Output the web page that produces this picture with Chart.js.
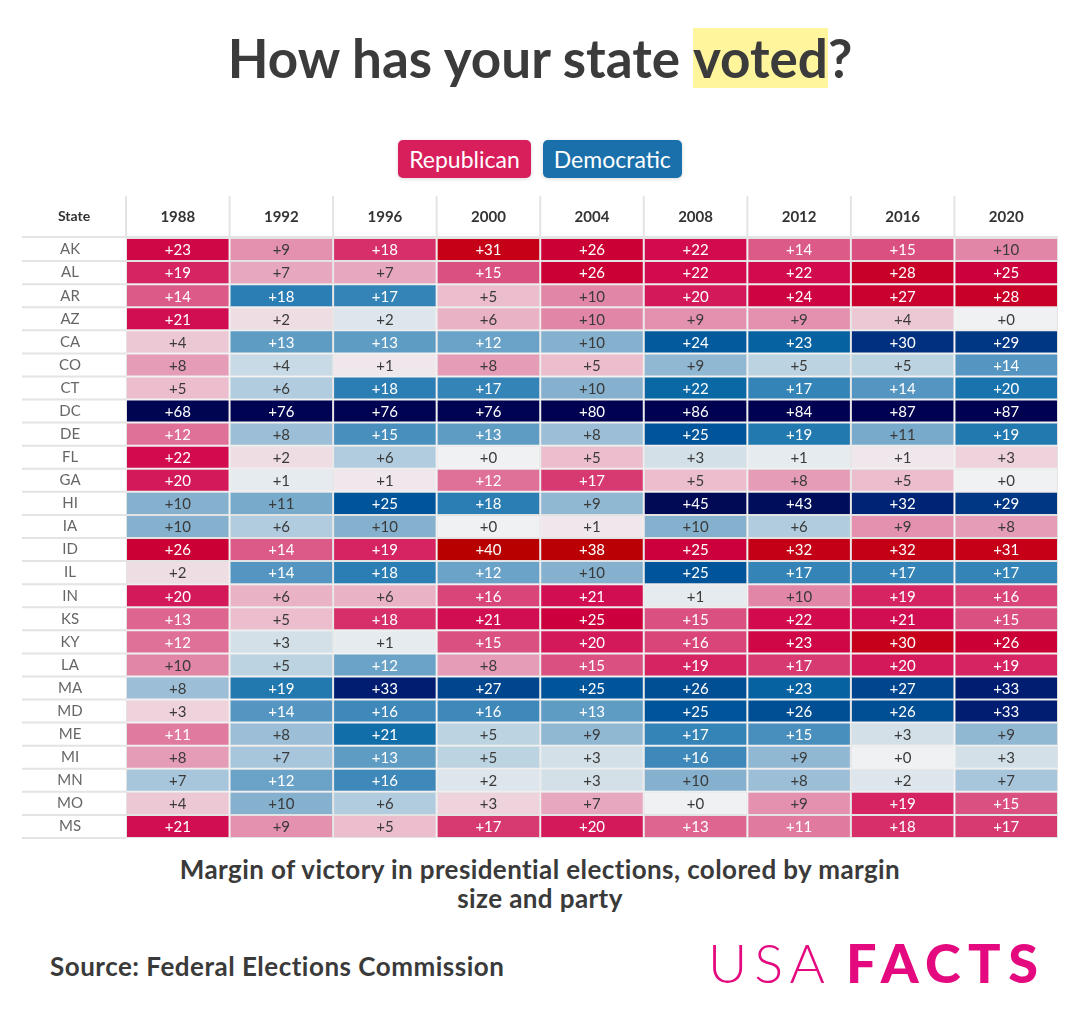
<!DOCTYPE html>
<html>
<head>
<meta charset="utf-8">
<script src="https://cdn.jsdelivr.net/npm/chart.js@4.4.1/dist/chart.umd.min.js"></script>
<style>
  html,body{margin:0;padding:0;background:#fff;}
  body{width:1080px;height:1029px;position:relative;overflow:hidden;font-family:Lato,"Noto Sans",sans-serif;color:#3a3a3a;}
  #title{position:absolute;top:28px;left:0;width:1080px;text-align:center;font-weight:700;font-size:53px;line-height:60px;color:#3b3b3b;}
  #title .hl{background:#fff59c;display:inline-block;height:60px;}
  #legend{position:absolute;top:140px;left:0;width:1080px;text-align:center;font-size:0;}
  #legend span{display:inline-block;color:#fff;font-size:23px;line-height:38px;height:38px;padding:0 11px;border-radius:5px;margin:0 6px;box-shadow:0 1px 4px rgba(0,0,0,0.15);}
  #cv{position:absolute;left:0;top:190px;}
  #sub{position:absolute;top:855px;left:0;width:1080px;text-align:center;font-weight:700;font-size:26px;line-height:29px;letter-spacing:0.4px;color:#3a3a3a;}
  #src{position:absolute;top:950px;left:50px;font-weight:700;font-size:26px;line-height:32px;letter-spacing:0.5px;color:#3a3a3a;}
  #logo{position:absolute;top:934px;left:708px;font-size:54px;line-height:58px;color:#e4097f;white-space:nowrap;}
  #logo .a{font-weight:300;letter-spacing:7px;}
  #logo .b{font-weight:900;letter-spacing:7.5px;margin-left:14px;}
</style>
</head>
<body>
<div id="title">How has your state <span class="hl">voted</span>?</div>
<div id="legend"><span style="background:#d81e5b">Republican</span><span style="background:#1a70aa">Democratic</span></div>
<canvas id="cv" width="1080" height="660"></canvas>
<div id="sub">Margin of victory in presidential elections, colored by margin<br>size and party</div>
<div id="src">Source: Federal Elections Commission</div>
<div id="logo"><span class="a">USA</span><span class="b">FACTS</span></div>
<script>
// Positive = Republican margin, negative = Democratic margin (percentage points)
const states = ["AK","AL","AR","AZ","CA","CO","CT","DC","DE","FL","GA","HI","IA","ID","IL","IN","KS","KY","LA","MA","MD","ME","MI","MN","MO","MS"];
const years = ["1988","1992","1996","2000","2004","2008","2012","2016","2020"];
const m1988 = [23,19,14,21,4,8,5,-68,12,22,20,-10,-10,26,2,20,13,12,10,-8,3,11,8,-7,4,21];
const m1992 = [9,7,-18,2,-13,-4,-6,-76,-8,2,-1,-11,-6,14,-14,6,5,-3,-5,-19,-14,-8,-7,-12,-10,9];
const m1996 = [18,7,-17,-2,-13,1,-18,-76,-15,-6,1,-25,-10,19,-18,6,18,-1,-12,-33,-16,-21,-13,-16,-6,5];
const m2000 = [31,15,5,6,-12,8,-17,-76,-13,0,12,-18,0,40,-12,16,21,15,8,-27,-16,-5,-5,-2,3,17];
const m2004 = [26,26,10,10,-10,5,-10,-80,-8,5,17,-9,1,38,-10,21,25,20,15,-25,-13,-9,-3,-3,7,20];
const m2008 = [22,22,20,9,-24,-9,-22,-86,-25,-3,5,-45,-10,25,-25,-1,15,16,19,-26,-25,-17,-16,-10,0,13];
const m2012 = [14,22,24,9,-23,-5,-17,-84,-19,-1,8,-43,-6,32,-17,10,22,23,17,-23,-26,-15,-9,-8,9,11];
const m2016 = [15,28,27,4,-30,-5,-14,-87,-11,1,5,-32,9,32,-17,19,21,30,20,-27,-26,-3,0,-2,19,18];
const m2020 = [10,25,28,0,-29,-14,-20,-87,-19,3,0,-29,8,31,-17,16,15,26,19,-33,-33,-9,-3,-7,15,17];
const margins = [m1988,m1992,m1996,m2000,m2004,m2008,m2012,m2016,m2020];

const redStops = [[0,"#f0f1f3"],[2,"#efdde4"],[5,"#ebbdcd"],[9,"#e391ae"],[13,"#dd6590"],[17,"#d73a70"],[21,"#d20e52"],[25,"#cc003c"],[30,"#c6001a"],[40,"#b80000"]];
const blueStops = [[0,"#f0f1f3"],[1,"#e6ebef"],[3,"#d3e0e8"],[5,"#bcd3e2"],[8,"#9cbfd7"],[10,"#85b1cf"],[13,"#5e9cc4"],[16,"#3f89ba"],[19,"#2179b0"],[22,"#0a68a5"],[25,"#00559a"],[27,"#00468e"],[30,"#00307f"],[33,"#001d72"],[45,"#000a55"],[90,"#000050"]];
function hex(h){return [1,3,5].map(i=>parseInt(h.substr(i,2),16));}
function interp(stops,v){
  if(v>=stops[stops.length-1][0]) return stops[stops.length-1][1];
  for(let i=1;i<stops.length;i++){
    if(v<=stops[i][0]){
      const [a,ca]=stops[i-1],[b,cb]=stops[i];
      const t=(v-a)/(b-a), A=hex(ca), B=hex(cb);
      return "rgb("+A.map((x,k)=>Math.round(x+(B[k]-x)*t)).join(",")+")";
    }
  }
}
function cellColor(v){return v>=0?interp(redStops,v):interp(blueStops,-v);}
function textColor(v){const a=Math.abs(v);return (v>0&&a>=11)||(v<0&&a>=12)?"#ffffff":"#3a3a3a";}

const datasets = years.map((yr,i)=>({
  label: yr,
  data: states.map(()=>[i,i+1]),
  backgroundColor: margins[i].map(cellColor),
  borderColor: "#e2e2e2",
  borderWidth: 1,
  borderSkipped: false,
  barPercentage: 1,
  categoryPercentage: 1,
  grouped: false,
  inflateAmount: 0
}));

const tablePlugin = {
  id: "tableDecor",
  beforeDatasetsDraw(chart){
    const ctx=chart.ctx, xs=chart.scales.x, ys=chart.scales.y, ca=chart.chartArea;
    const rowH = ys.getPixelForValue(1)-ys.getPixelForValue(0);
    ctx.save();
    ctx.strokeStyle="#e4e4e4"; ctx.lineWidth=2;
    ctx.beginPath();
    ctx.moveTo(22,ca.top-1); ctx.lineTo(ca.right,ca.top-1);
    for(let i=1;i<=states.length;i++){
      const yy=ys.getPixelForValue(i)-rowH/2;
      ctx.moveTo(22,yy); ctx.lineTo(ca.left,yy);
    }
    for(let j=0;j<years.length;j++){
      const xx=xs.getPixelForValue(j);
      ctx.moveTo(xx,ca.top-42); ctx.lineTo(xx,ca.top-2);
    }
    ctx.stroke();
    ctx.fillStyle="#333"; ctx.font="bold 14px Lato"; ctx.textAlign="center"; ctx.textBaseline="middle";
    ctx.fillText("State",(22+ca.left)/2,ca.top-22);
    ctx.restore();
  },
  afterDatasetsDraw(chart){
    const ctx=chart.ctx;
    ctx.save();
    ctx.font="15px Lato"; ctx.textAlign="center"; ctx.textBaseline="middle";
    chart.data.datasets.forEach((ds,i)=>{
      chart.getDatasetMeta(i).data.forEach((el,k)=>{
        const v=margins[i][k], p=el.getCenterPoint();
        ctx.fillStyle=textColor(v);
        ctx.fillText("+"+Math.abs(v),p.x,p.y+1);
      });
    });
    ctx.restore();
  }
};

new Chart(document.getElementById("cv"),{
  type:"bar",
  data:{labels:states,datasets},
  options:{
    indexAxis:"y",
    responsive:false,
    animation:false,
    devicePixelRatio:1,
    layout:{padding:{left:22,right:22,top:0,bottom:12}},
    plugins:{legend:{display:false},tooltip:{enabled:false}},
    scales:{
      x:{
        type:"linear",position:"top",min:0,max:9,
        grid:{display:false,drawTicks:false},border:{display:false},
        afterBuildTicks:(s)=>{s.ticks=years.map((_,i)=>({value:i+0.5}));},
        afterFit:(s)=>{s.height=48;s.paddingLeft=0;s.paddingRight=0;},
        ticks:{autoSkip:false,maxRotation:0,padding:12,color:"#333",font:{family:"Lato",size:15,weight:"bold"},
          callback:(v,i)=>years[i]}
      },
      y:{
        type:"category",
        grid:{display:false,drawTicks:false},border:{display:false},
        afterFit:(s)=>{s.width=104;s.paddingTop=0;s.paddingBottom=0;},
        ticks:{crossAlign:"center",color:"#666",font:{family:"Lato",size:15},padding:43}
      }
    }
  },
  plugins:[tablePlugin]
});
</script>
</body>
</html>
